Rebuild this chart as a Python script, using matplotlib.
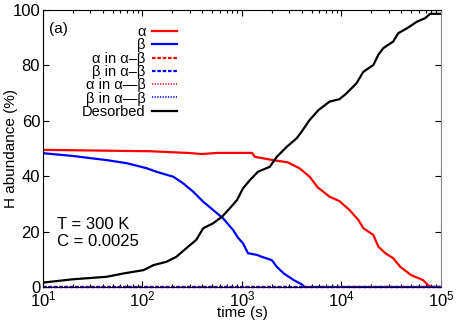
import numpy as np
import matplotlib
matplotlib.use("Agg")
import matplotlib.pyplot as plt

plt.rcParams['font.family'] = ['Liberation Sans', 'DejaVu Sans']
plt.rcParams['mathtext.fontset'] = 'custom'
plt.rcParams['mathtext.rm'] = 'Liberation Sans'

# log10(time) and abundances (%)
alpha_logt = [1.0, 2.08, 2.45, 2.6, 2.75, 2.9, 3.1, 3.13, 3.31, 3.46, 3.58, 3.68, 3.76, 3.88,
              3.98, 4.08, 4.17, 4.22, 4.32, 4.37, 4.44, 4.52, 4.59, 4.70, 4.82, 4.87, 4.91, 5.0]
alpha_val = [49.5, 49.0, 48.4, 48.0, 48.4, 48.4, 48.4, 47.0, 45.8, 45.0, 42.8, 39.8, 36.0, 32.6,
             31.0, 27.8, 24.2, 21.2, 18.8, 14.6, 12.2, 10.4, 7.3, 4.3, 2.5, 0.7, 0.0, 0.0]

beta_logt = [1.0, 1.30, 1.64, 1.84, 2.04, 2.14, 2.31, 2.41, 2.51, 2.61, 2.71, 2.81, 2.91, 2.96,
             3.01, 3.06, 3.15, 3.20, 3.30, 3.35, 3.42, 3.52, 3.60, 3.63, 5.0]
beta_val = [48.3, 47.3, 45.8, 44.7, 42.9, 41.6, 39.8, 37.4, 34.4, 30.8, 27.8, 24.8, 20.6, 17.8,
            15.8, 12.2, 11.6, 10.9, 9.7, 7.3, 4.9, 2.5, 1.0, 0.0, 0.0]

des_logt = [1.0, 1.30, 1.64, 1.81, 2.01, 2.11, 2.24, 2.34, 2.44, 2.54, 2.61, 2.71, 2.80, 2.88,
            2.95, 3.01, 3.08, 3.16, 3.28, 3.35, 3.45, 3.55, 3.60, 3.68, 3.77, 3.88, 3.98, 4.05,
            4.15, 4.22, 4.32, 4.37, 4.42, 4.52, 4.57, 4.66, 4.76, 4.84, 4.89, 5.0]
des_val = [1.6, 2.8, 3.7, 4.9, 6.1, 7.9, 9.1, 10.9, 14.0, 17.0, 21.2, 23.0, 25.4, 28.5,
           31.4, 35.6, 38.6, 41.6, 43.4, 47.0, 50.6, 53.7, 56.1, 60.3, 63.9, 66.9, 67.8, 69.9,
           73.5, 77.7, 80.1, 83.8, 86.2, 88.6, 91.6, 93.4, 95.8, 97.0, 98.6, 98.6]

zero_logt = [1.0, 5.0]
a_in_ab_val = [0.0, 0.0]
b_in_ab_val = [0.0, 0.0]
a_in_ab2_val = [0.0, 0.0]
b_in_ab2_val = [0.0, 0.0]

labels = ['α', 'β', 'α in α–β', 'β in α–β', 'α in α—β', 'β in α—β', 'Desorbed']

fig = plt.figure(figsize=(4.57, 3.2), dpi=100)
ax = fig.add_axes([0.094, 0.103, 0.871, 0.866])

t = lambda lt: 10 ** np.asarray(lt)
lw = 1.6
ax.plot(t(alpha_logt), alpha_val, color='#ff0000', lw=lw, label=labels[0])
ax.plot(t(beta_logt), beta_val, color='#0000ff', lw=lw, label=labels[1])
ax.plot(t(zero_logt), a_in_ab_val, color='#ff0000', lw=lw, dashes=(1.6, 0.8), label=labels[2], clip_on=False)
ax.plot(t(zero_logt), b_in_ab_val, color='#0000ff', lw=lw, dashes=(1.6, 0.8), label=labels[3], clip_on=False)
ax.plot(t(zero_logt), a_in_ab2_val, color='#ff0000', lw=1.2, dashes=(0.7, 0.9), label=labels[4], clip_on=False)
ax.plot(t(zero_logt), b_in_ab2_val, color='#0000ff', lw=1.2, dashes=(0.7, 0.9), label=labels[5], clip_on=False)
ax.plot(t(des_logt), des_val, color='black', lw=lw, label=labels[6])

ax.set_xscale('log')
ax.set_xlim(10, 1e5)
ax.set_ylim(0, 100)
ax.set_yticks([0, 20, 40, 60, 80, 100])
ax.tick_params(which='both', direction='in', top=True, right=True, labelsize=12)
ax.tick_params(which='major', length=4, width=0.8)
ax.tick_params(which='minor', length=2, width=0.8)
ax.tick_params(axis='x', pad=2)
ax.tick_params(axis='y', pad=2)
ax.spines['right'].set_color('#888888')

ax.set_xlabel('time (s)', fontsize=11, labelpad=-3)
ax.set_ylabel('H abundance (%)', fontsize=11)
ax.yaxis.set_label_coords(-0.062, 0.5)

ax.text(0.016, 0.955, '(a)', transform=ax.transAxes, fontsize=11, va='top', ha='left')
ax.text(0.035, 0.195, 'T = 300 K\nC = 0.0025', transform=ax.transAxes, fontsize=12,
        va='center', ha='left', linespacing=1.1)

leg = ax.legend(loc='upper right', bbox_to_anchor=(0.337, 0.945), markerfirst=False, frameon=False,
                fontsize=10.5, labelspacing=-0.05, handlelength=1.75, handletextpad=0.4,
                borderaxespad=0, borderpad=0)

fig.savefig('out.png', dpi=100)
